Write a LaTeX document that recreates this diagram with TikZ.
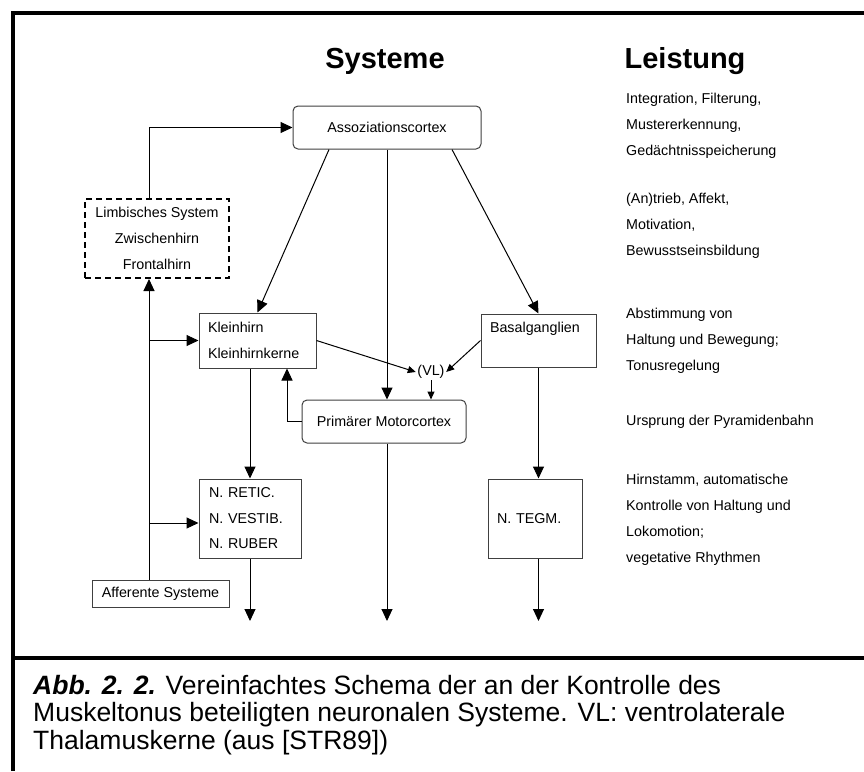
\documentclass[tikz,border=0pt]{standalone}
\usepackage{fontspec}
\setmainfont{Liberation Sans}
\usetikzlibrary{arrows.meta,calc}
\begin{document}
\begin{tikzpicture}[x=1pt,y=-1pt,
  conn/.style={line width=1pt, -{Triangle[length=12pt,width=11pt]}},
  sconn/.style={line width=1pt, -{Triangle[length=8pt,width=7pt]}},
  box/.style={draw=black!75, line width=1pt, inner sep=0pt, font=\fontsize{14.3}{25.5}\selectfont},
  rbox/.style={box, rounded corners=5pt},
  lbox/.style={box, align=left, inner xsep=9pt},
  rtext/.style={anchor=base west, align=left, inner sep=0pt, font=\fontsize{14.3}{26}\selectfont},
  title/.style={anchor=base, inner sep=0pt, font=\fontsize{29}{34}\selectfont\bfseries},
  frame/.style={line width=4pt}]
\useasboundingbox (0,0) rectangle (864,771);
\fill[white] (0,0) rectangle (864,771);
% frame
\draw[frame] (13,771) -- (13,13) -- (864,13);
\draw[frame] (13,658) -- (864,658);
% titles
\node[title] (tsys) at (385,68) {Systeme};
\node[title] (tleis) at (685,68) {Leistung};
% boxes
\node[rbox, minimum width=188pt, minimum height=43pt] (assoz) at (387,127.5) {Assoziationscortex};
\node[box, draw=black, line width=2pt, dash pattern=on 6pt off 4pt, align=center,
      minimum width=144pt, minimum height=79pt, font=\fontsize{14.3}{26}\selectfont] (limb) at (157,238.5)
      {Limbisches System\\Zwischenhirn\\Frontalhirn};
\node[lbox, text width=99pt, minimum width=117pt, minimum height=55pt] (klein) at (257.5,340.5) {Kleinhirn\\Kleinhirnkerne};
\node[lbox, text width=97pt, minimum width=115pt, minimum height=53pt] (basal) at (538.5,340.5) {Basalganglien\\\mbox{}};
\node[inner sep=1.5pt, font=\fontsize{14.3}{17}\selectfont] (vl) at (431,372) {(VL)};
\node[rbox, minimum width=164pt, minimum height=43pt] (motor) at (384,421.5) {Primärer Motorcortex};
\node[lbox, inner xsep=10pt, text width=82pt, minimum width=102pt, minimum height=79pt] (nuc) at (250,518.5) {N. RETIC.\\N. VESTIB.\\N. RUBER};
\node[lbox, text width=76pt, minimum width=94pt, minimum height=79pt] (tegm) at (535,518.5) {N. TEGM.};
\node[box, minimum width=137pt, minimum height=27pt] (aff) at (160.5,593.5) {Afferente Systeme};
% helper coordinates
\coordinate (cL) at (149,0);
\coordinate (bot) at (0,621);
\coordinate (nucin) at ($(nuc.west)+(0,4.5)$);
% connectors
\draw[conn] (limb.north -| cL) |- (assoz.west);
\draw[conn] (aff.north -| cL) -- (limb.south -| cL);
\draw[conn] (klein.west -| cL) -- (klein.west);
\draw[conn] (nucin -| cL) -- (nucin);
\draw[conn] ($(assoz.south)+(-58,0)$) -- (klein.north);
\draw[conn] (assoz.south) -- (assoz.south |- motor.north);
\draw[conn] ($(assoz.south)+(65,0)$) -- (basal.north);
\draw[sconn] (klein.east) -- (vl.west);
\draw[sconn] (basal.west) -- (vl.east);
\draw[sconn] (vl.south) -- (vl.south |- motor.north);
\draw[conn] (motor.west) -| ($(klein.south)+(29.5,0)$);
\draw[conn] (nuc.north |- klein.south) -- (nuc.north);
\draw[conn] (basal.south) -- (basal.south |- tegm.north);
\draw[conn] (nuc.south) -- (nuc.south |- bot);
\draw[conn] (motor.south -| assoz.south) -- (assoz.south |- bot);
\draw[conn] (tegm.south -| basal.south) -- (basal.south |- bot);
% right column (base anchor = baseline of last line)
\node[rtext] (l1) at (626,155) {Integration, Filterung,\\Mustererkennung,\\Gedächtnisspeicherung};
\node[rtext] (l2) at (626,255) {(An)trieb, Affekt,\\Motivation,\\Bewusstseinsbildung};
\node[rtext] (l3) at (626,370) {Abstimmung von\\Haltung und Bewegung;\\Tonusregelung};
\node[rtext] (l4) at (626,425) {Ursprung der Pyramidenbahn};
\node[rtext] (l5) at (626,562) {Hirnstamm, automatische\\Kontrolle von Haltung und\\Lokomotion;\\vegetative Rhythmen};
% caption
\node[anchor=base west, align=left, inner sep=0pt, font=\fontsize{26.5}{27.5}\selectfont] (cap) at (33,749)
  {\textbf{\textit{Abb. 2. 2.}} Vereinfachtes Schema der an der Kontrolle des\\Muskeltonus beteiligten neuronalen Systeme. VL: ventrolaterale\\Thalamuskerne (aus [STR89])};
\end{tikzpicture}
\end{document}
